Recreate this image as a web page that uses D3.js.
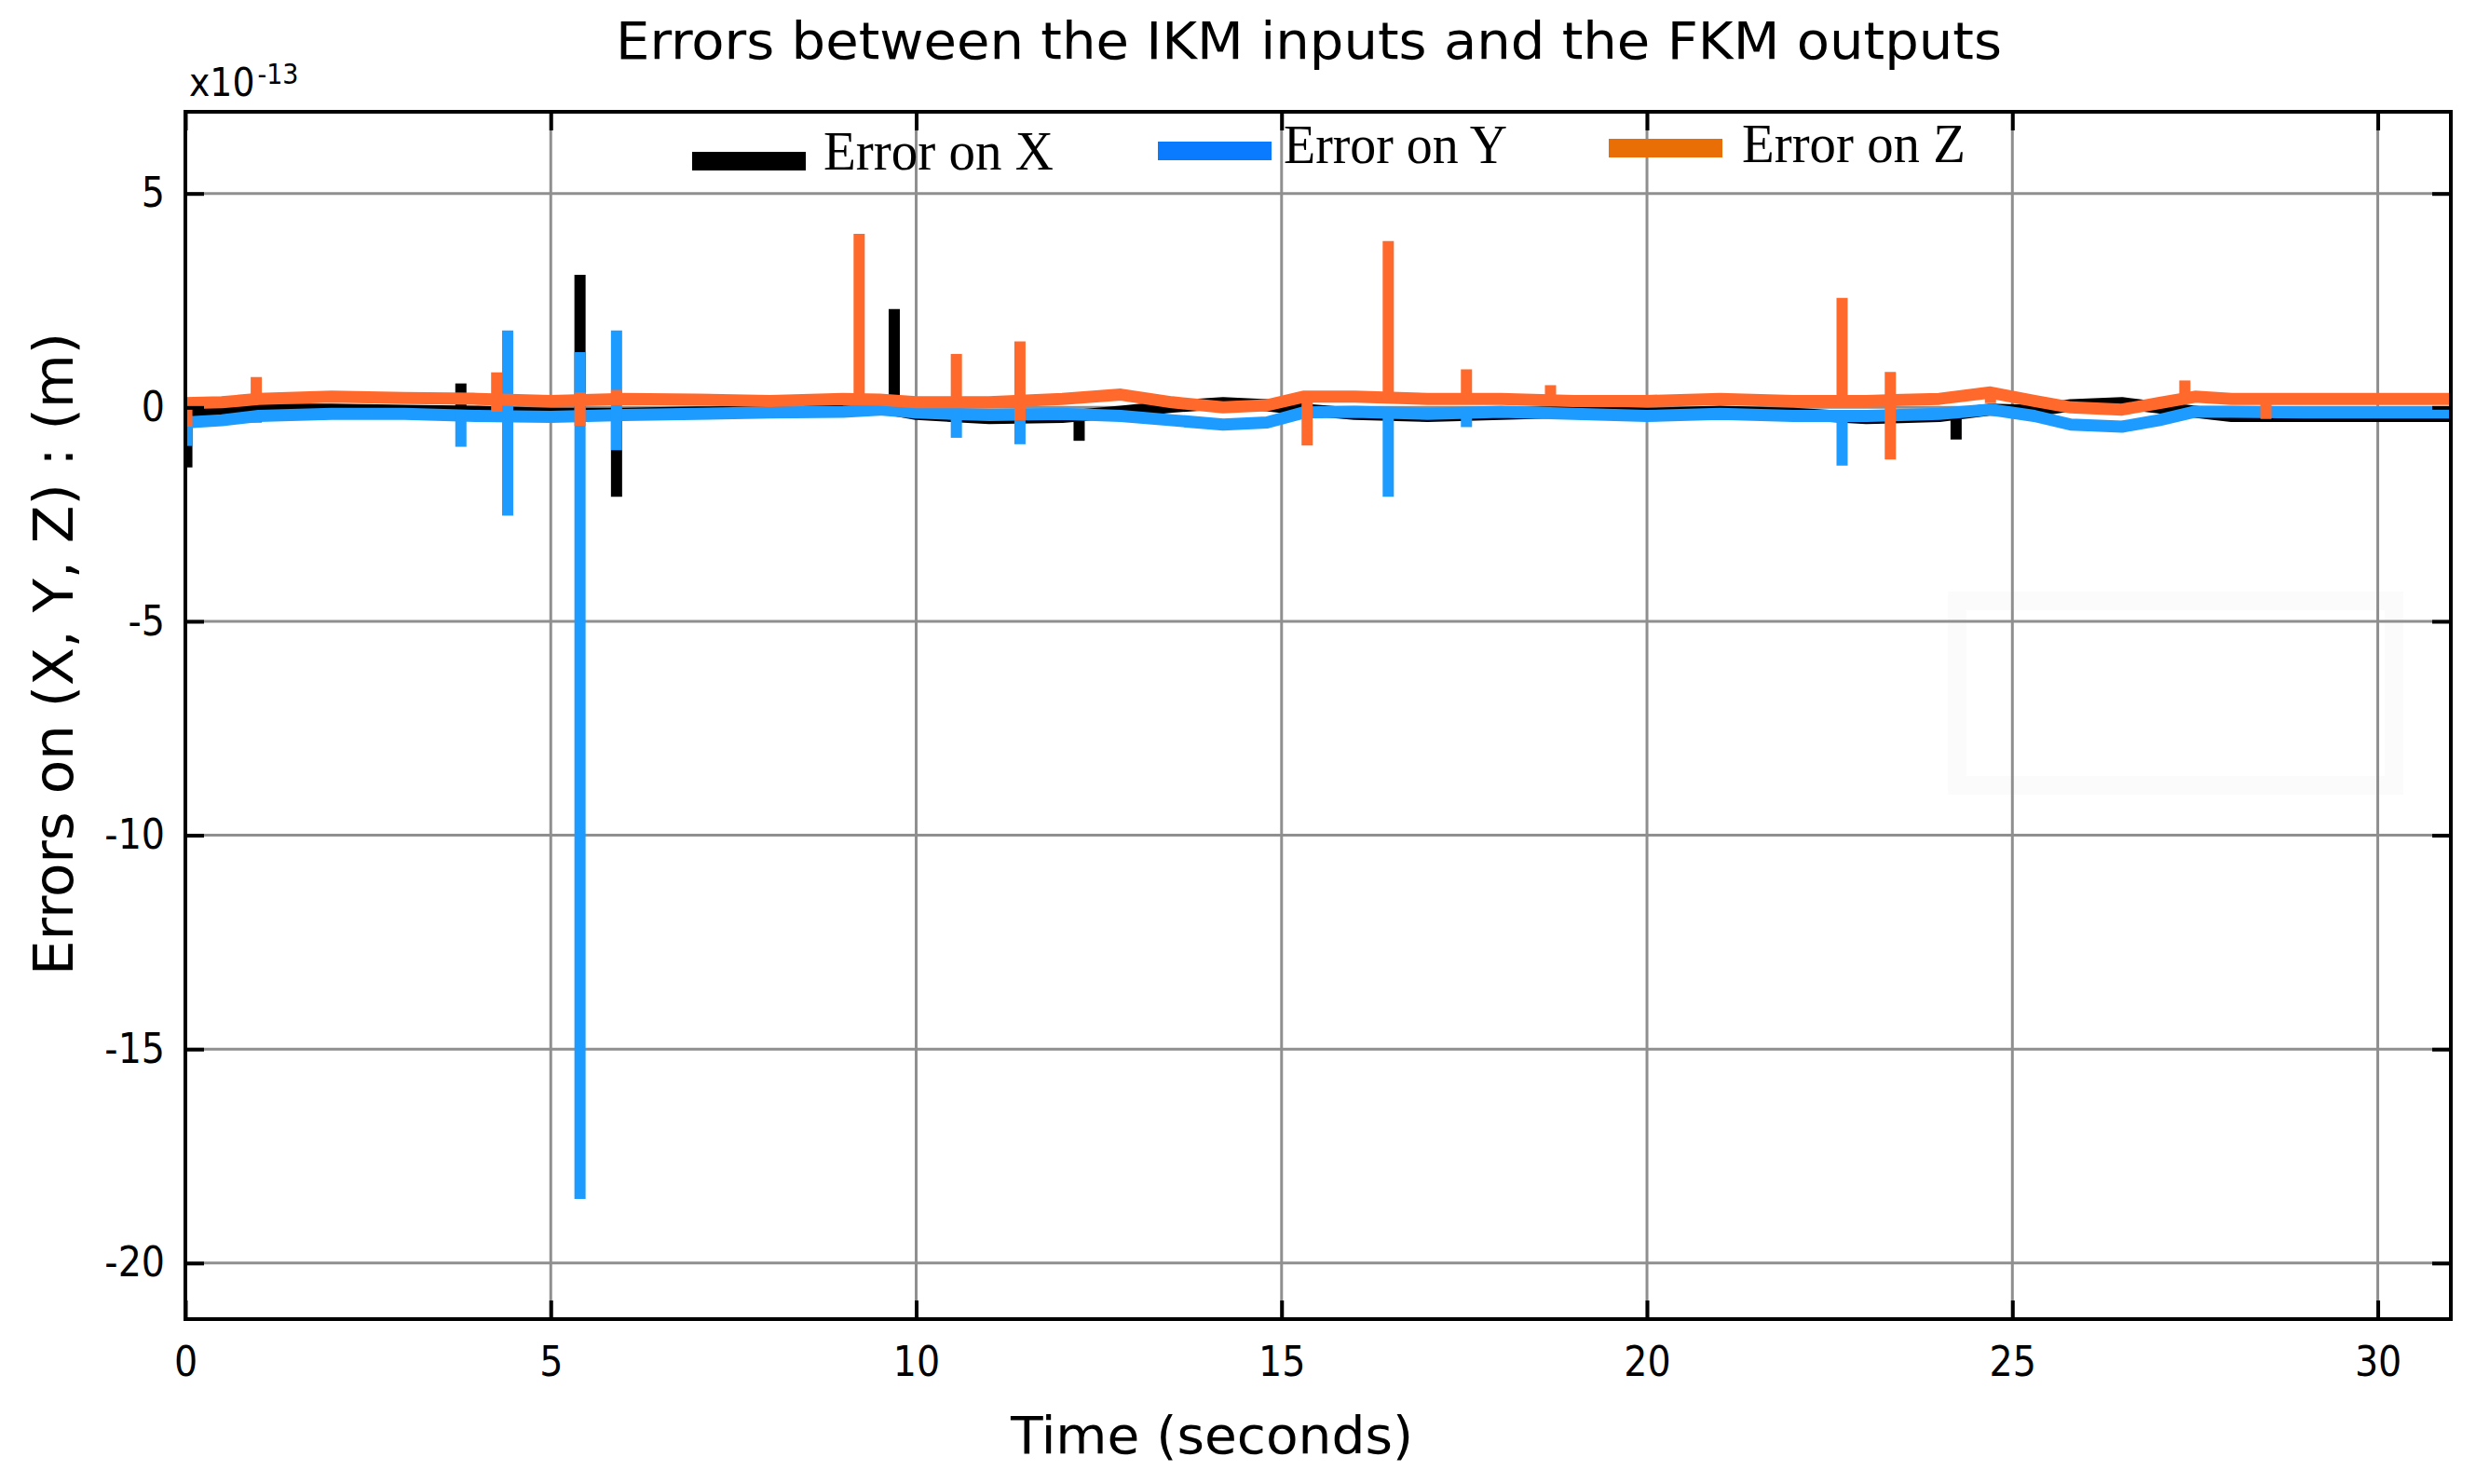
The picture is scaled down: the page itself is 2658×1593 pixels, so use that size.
<!DOCTYPE html>
<html>
<head>
<meta charset="utf-8">
<script src="https://cdn.jsdelivr.net/npm/d3@7"></script>
<style>
  html, body { margin: 0; padding: 0; background: #fff; }
  svg { display: block; }
</style>
</head>
<body>
<svg id="chart" width="2658" height="1593"></svg>
<script>
// ---------------- DATA (units: x10^-13 m, time in seconds) ----------------
const xTicks = [0, 5, 10, 15, 20, 25, 30];
const yTicks = [5, 0, -5, -10, -15, -20];
const seriesNames = ["Error on X", "Error on Y", "Error on Z"];

// slowly varying baselines, sampled at baseTime
const baseTime = [0, 0.5, 1, 2, 3, 4, 5, 6, 7, 8, 9, 9.5, 10, 11, 12, 12.8, 13.5, 14.2, 14.8, 15.3, 16, 17, 18, 19, 20, 21, 22, 23, 24, 24.7, 25.3, 25.8, 26.5, 27, 27.5, 28, 29, 30, 31];
const baseX = [-0.1, -0.08, -0.05, -0.05, -0.08, -0.1, -0.15, -0.15, -0.12, -0.1, -0.02, 0.0, -0.15, -0.25, -0.22, -0.1, 0.02, 0.1, 0.05, -0.05, -0.15, -0.2, -0.15, -0.1, -0.15, -0.1, -0.15, -0.25, -0.2, -0.05, -0.08, 0.05, 0.1, 0.0, -0.1, -0.2, -0.2, -0.2, -0.2];
const baseY = [-0.35, -0.3, -0.2, -0.15, -0.15, -0.2, -0.22, -0.18, -0.15, -0.12, -0.1, -0.05, -0.12, -0.18, -0.15, -0.2, -0.3, -0.4, -0.35, -0.12, -0.1, -0.15, -0.1, -0.15, -0.2, -0.15, -0.2, -0.2, -0.15, -0.05, -0.2, -0.4, -0.45, -0.3, -0.1, -0.1, -0.12, -0.12, -0.12];
const baseZ = [0.1, 0.12, 0.2, 0.25, 0.22, 0.2, 0.15, 0.2, 0.18, 0.15, 0.2, 0.18, 0.12, 0.12, 0.2, 0.3, 0.12, 0.0, 0.05, 0.25, 0.25, 0.2, 0.2, 0.15, 0.15, 0.2, 0.15, 0.15, 0.2, 0.35, 0.15, 0.0, -0.05, 0.1, 0.25, 0.2, 0.2, 0.2, 0.2];

// spikes: [time, low, high]
const spikesX = [[0.02, -1.4, 0], [0.97, -0.35, 0], [3.77, -0.1, 0.56], [5.40, -0.2, 3.1], [5.90, -2.09, 0], [9.70, -0.1, 2.30], [12.23, -0.78, -0.1], [24.23, -0.75, -0.1]];
const spikesY = [[0.02, -0.9, -0.2], [3.77, -0.92, -0.1], [4.41, -2.53, 1.8], [5.40, -18.5, 1.29], [5.90, -1.0, 1.8], [10.55, -0.71, -0.1], [11.42, -0.86, -0.1], [16.46, -2.09, -0.1], [17.53, -0.46, -0.1], [22.67, -1.36, -0.1]];
const spikesZ = [[0.02, -0.45, 0.1], [0.97, 0.1, 0.71], [4.26, -0.1, 0.82], [5.40, -0.43, 0.35], [5.90, 0.1, 0.41], [9.22, 0.1, 4.06], [10.55, 0.1, 1.25], [11.42, -0.3, 1.54], [15.35, -0.89, 0.2], [16.46, 0.1, 3.89], [17.53, 0.1, 0.89], [18.68, 0.1, 0.52], [22.67, 0.1, 2.56], [23.33, -1.22, 0.83], [24.70, 0.1, 0.42], [27.36, 0.1, 0.63], [28.47, -0.27, 0.2]];

// ---------------- LAYOUT ----------------
(function () {
const svg = d3.select("#chart");
const pL = 199, pR = 2631, pT = 120, pB = 1416;
const x = d3.scaleLinear().domain([0, 31]).range([pL, pR]);
const y = d3.scaleLinear().domain([-21.31, 6.91]).range([pB, pT]);

const lineColors = ["#000000", "#1e9bff", "#ff6a2c"];
const legendColors = ["#000000", "#0a7aff", "#e86e05"];
const condensed = "'DejaVu Sans Condensed', 'DejaVu Sans', sans-serif";

svg.append("rect").attr("width", 2658).attr("height", 1593).attr("fill", "#fff");

// faint artifact frame
svg.append("rect").attr("x", 2101).attr("y", 645).attr("width", 469).attr("height", 198)
  .attr("fill", "none").attr("stroke", "#fbfbfb").attr("stroke-width", 20);

// grid
const grid = svg.append("g");
grid.selectAll("line.gx").data(xTicks.filter(d => d > 0)).join("line")
  .attr("x1", d => x(d)).attr("x2", d => x(d)).attr("y1", pT).attr("y2", pB)
  .attr("stroke", "#8f8f8f").attr("stroke-width", 3);
grid.selectAll("line.gy").data(yTicks).join("line")
  .attr("x1", pL).attr("x2", pR).attr("y1", d => y(d)).attr("y2", d => y(d))
  .attr("stroke", "#8f8f8f").attr("stroke-width", 3);

// clip
svg.append("clipPath").attr("id", "clip").append("rect")
  .attr("x", pL).attr("y", pT).attr("width", pR - pL).attr("height", pB - pT);
const plot = svg.append("g").attr("clip-path", "url(#clip)");

const line = d3.line().x(d => x(d[0])).y(d => y(d[1]));
const bases = [baseX, baseY, baseZ];
const spikes = [spikesX, spikesY, spikesZ];

bases.forEach((vals, i) => {
  const pts = baseTime.map((t, k) => [t, vals[k]]);
  plot.append("path").datum(pts).attr("d", line)
    .attr("fill", "none").attr("stroke", lineColors[i]).attr("stroke-width", 13)
    .attr("stroke-linejoin", "round");
  plot.selectAll(null).data(spikes[i]).join("line")
    .attr("x1", d => x(d[0])).attr("x2", d => x(d[0]))
    .attr("y1", d => y(d[1])).attr("y2", d => y(d[2]))
    .attr("stroke", lineColors[i]).attr("stroke-width", 12);
});

// axes with inward ticks on all four sides
const tickLen = 20;
const axB = d3.axisBottom(x).tickValues(xTicks).tickSize(-tickLen).tickPadding(30).tickFormat(d3.format("d"));
const axT = d3.axisTop(x).tickValues(xTicks).tickSize(-tickLen).tickFormat("");
const axL = d3.axisLeft(y).tickValues(yTicks).tickSize(-tickLen).tickPadding(22).tickFormat(d => String(d));
const axR = d3.axisRight(y).tickValues(yTicks).tickSize(-tickLen).tickFormat("");

function style(g) {
  g.select(".domain").remove();
  g.selectAll(".tick line").attr("stroke", "#000").attr("stroke-width", 4);
  g.selectAll("text").attr("fill", "#000").style("font-family", condensed)
    .style("font-stretch", "condensed").style("font-size", "44px");
}
svg.append("g").attr("transform", `translate(0,${pB})`).call(axB).call(style);
svg.append("g").attr("transform", `translate(0,${pT})`).call(axT).call(style);
svg.append("g").attr("transform", `translate(${pL},0)`).call(axL).call(style);
svg.append("g").attr("transform", `translate(${pR},0)`).call(axR).call(style);

// border
svg.append("rect").attr("x", pL).attr("y", pT).attr("width", pR - pL).attr("height", pB - pT)
  .attr("fill", "none").attr("stroke", "#000").attr("stroke-width", 4);

// exponent label
const ex = svg.append("text").attr("x", 203).attr("y", 103)
  .style("font-family", condensed).style("font-stretch", "condensed").style("font-size", "42px").attr("fill", "#000");
ex.append("tspan").text("x10");
ex.append("tspan").attr("dx", 3).attr("dy", -13).style("font-size", "30px").text("-13");

// title
svg.append("text").attr("x", 1405).attr("y", 63).attr("text-anchor", "middle")
  .attr("textLength", 1488).attr("lengthAdjust", "spacingAndGlyphs")
  .style("font-family", condensed).style("font-stretch", "condensed").style("font-size", "55px")
  .text("Errors between the IKM inputs and the FKM outputs");

// axis titles
svg.append("text").attr("x", 1301).attr("y", 1560).attr("text-anchor", "middle")
  .attr("textLength", 432).attr("lengthAdjust", "spacingAndGlyphs")
  .style("font-family", condensed).style("font-stretch", "condensed").style("font-size", "55px")
  .text("Time (seconds)");
svg.append("text").attr("transform", "translate(78,702) rotate(-90)").attr("text-anchor", "middle")
  .attr("textLength", 690).attr("lengthAdjust", "spacingAndGlyphs")
  .style("font-family", condensed).style("font-stretch", "condensed").style("font-size", "58px")
  .text("Errors on (X, Y, Z) : (m)");

// legend
const legendSw = [[743, 163], [1243, 152], [1727, 149]];
const legendTx = [[884, 182, 247], [1378, 175, 240], [1870, 174, 240]];
seriesNames.forEach((name, i) => {
  svg.append("rect").attr("x", legendSw[i][0]).attr("y", legendSw[i][1]).attr("width", 122).attr("height", 20)
    .attr("fill", legendColors[i]);
  svg.append("text").attr("x", legendTx[i][0]).attr("y", legendTx[i][1])
    .attr("textLength", legendTx[i][2]).attr("lengthAdjust", "spacingAndGlyphs")
    .style("font-family", "'Liberation Serif', 'Times New Roman', serif").style("font-size", "60px")
    .attr("fill", "#000").text(name);
});
})();
</script>
</body>
</html>
